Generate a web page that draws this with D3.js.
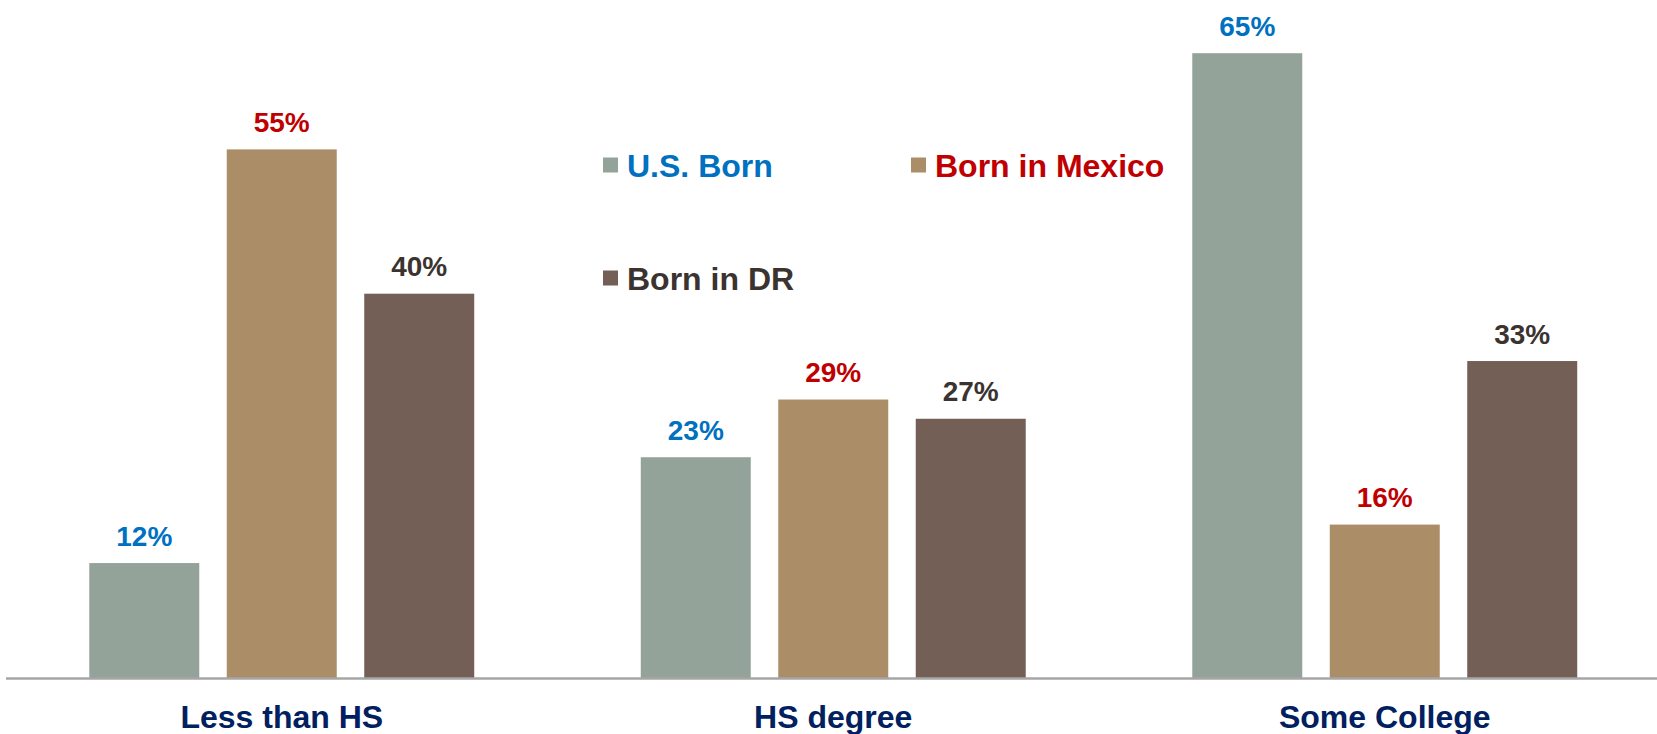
<!DOCTYPE html>
<html>
<head>
<meta charset="utf-8">
<script src="https://cdn.jsdelivr.net/npm/d3@7"></script>
<style>
  html, body { margin: 0; padding: 0; background: #ffffff; }
  svg { display: block; }
  text { font-family: "Liberation Sans", Arial, sans-serif; font-weight: bold; }
</style>
</head>
<body>
<svg id="chart" width="1657" height="734"></svg>
<script>
// Educational attainment by place of birth (percent)
const categories = ["Less than HS", "HS degree", "Some College"];
const seriesNames = ["U.S. Born", "Born in Mexico", "Born in DR"];
const usBorn = [12, 23, 65];
const bornMexico = [55, 29, 16];
const bornDR = [40, 27, 33];
const seriesValues = [usBorn, bornMexico, bornDR];

const barColors = ["#93a399", "#ab8e67", "#735f55"];
const labelColors = ["#0070c0", "#c00000", "#3b3330"];

const W = 1657, H = 734;
const svg = d3.select("#chart");

const baseY = 678.5;
const x0 = d3.scaleBand()
  .domain(categories)
  .range([6, 1660.5])
  .paddingInner(0.302)
  .paddingOuter(0.151);

const x1 = d3.scaleBand()
  .domain(seriesNames)
  .range([0, x0.bandwidth()])
  .paddingInner(0.2)
  .paddingOuter(0);

const y = d3.scaleLinear()
  .domain([0, 70])
  .range([baseY, baseY - 70 * 9.62]);

// bars and value labels
const rows = categories.map((c, ci) => ({
  category: c,
  values: seriesNames.map((s, si) => ({ series: s, si, value: seriesValues[si][ci] }))
}));

const groups = svg.append("g").selectAll("g")
  .data(rows)
  .join("g")
  .attr("transform", d => `translate(${x0(d.category)},0)`);

groups.selectAll("rect")
  .data(d => d.values)
  .join("rect")
  .attr("x", d => x1(d.series))
  .attr("y", d => y(d.value))
  .attr("width", x1.bandwidth())
  .attr("height", d => baseY - y(d.value))
  .attr("fill", d => barColors[d.si]);

groups.selectAll("text.val")
  .data(d => d.values)
  .join("text")
  .attr("class", "val")
  .attr("x", d => x1(d.series) + x1.bandwidth() / 2)
  .attr("y", d => y(d.value) - 17.5)
  .attr("text-anchor", "middle")
  .attr("font-size", 28)
  .attr("fill", d => labelColors[d.si])
  .text(d => d.value + "%");

// category axis
const xAxis = svg.append("g")
  .attr("transform", `translate(0,${baseY})`)
  .call(d3.axisBottom(x0).tickSize(0).tickPadding(0));
xAxis.select(".domain").remove();
xAxis.append("line")
  .attr("x1", 6).attr("x2", W)
  .attr("y1", 0).attr("y2", 0)
  .attr("stroke", "#a6a6a6")
  .attr("stroke-width", 2.5);
xAxis.selectAll(".tick text")
  .attr("dy", null)
  .attr("y", 49)
  .attr("font-size", 32)
  .attr("font-family", "'Liberation Sans', Arial, sans-serif")
  .attr("font-weight", "bold")
  .attr("fill", "#002060");

// legend
const legendPos = [
  { x: 603, y: 176.5 },
  { x: 911, y: 176.5 },
  { x: 603, y: 289.5 }
];
const legend = svg.append("g").selectAll("g")
  .data(seriesNames)
  .join("g")
  .attr("transform", (d, i) => `translate(${legendPos[i].x},${legendPos[i].y})`);
legend.append("rect")
  .attr("x", 0).attr("y", -19)
  .attr("width", 15).attr("height", 15)
  .attr("fill", (d, i) => barColors[i]);
legend.append("text")
  .attr("x", 24).attr("y", 0)
  .attr("font-size", 32)
  .attr("fill", (d, i) => labelColors[i])
  .text(d => d);
</script>
</body>
</html>
